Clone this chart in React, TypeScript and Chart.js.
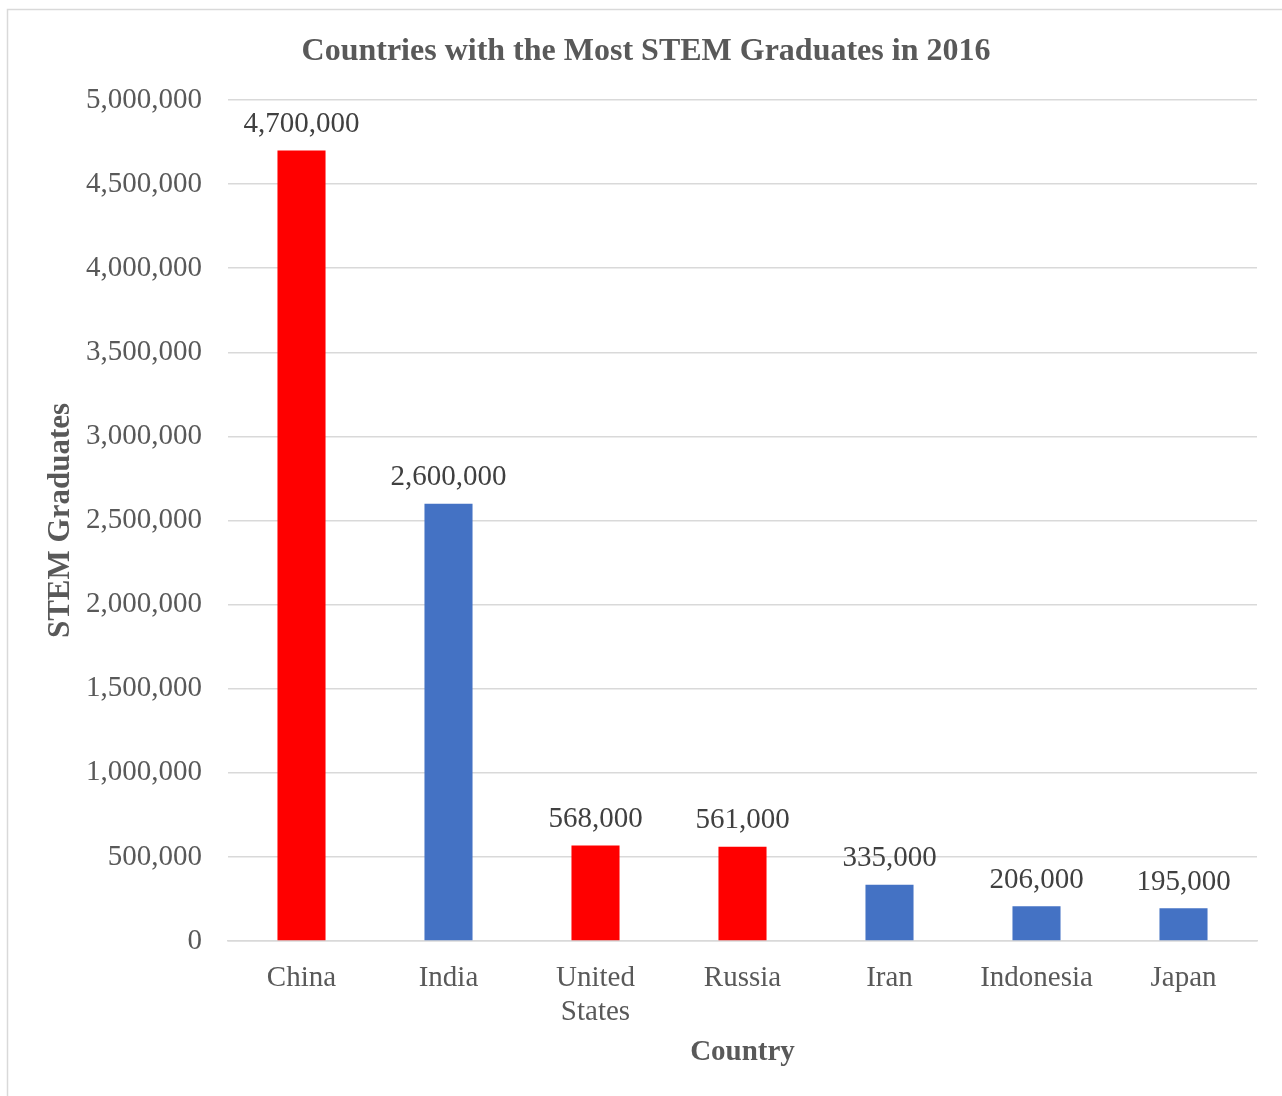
import React, { useEffect, useRef } from "react";
import { Chart, registerables } from "chart.js";

Chart.register(...registerables);

const categories: (string | string[])[] = ["China", "India", ["United", "States"], "Russia", "Iran", "Indonesia", "Japan"];
const graduates: number[] = [4700000, 2600000, 568000, 561000, 335000, 206000, 195000];
const barColors: string[] = ["#FF0000", "#4472C4", "#FF0000", "#FF0000", "#4472C4", "#4472C4", "#4472C4"];
const chartTitle = "Countries with the Most STEM Graduates in 2016";
const xTitle = "Country";
const yTitle = "STEM Graduates";

const FONT = "'Liberation Serif', 'Times New Roman', serif";
const W = 1282;
const H = 1096;

const fmt = (v: number) => v.toLocaleString("en-US");

const decorPlugin = {
  id: "decor",
  beforeDraw(chart: any) {
    const ctx = chart.ctx;
    ctx.save();
    ctx.strokeStyle = "#d9d9d9";
    ctx.lineWidth = 1.5;
    ctx.beginPath();
    ctx.moveTo(7.5, H);
    ctx.lineTo(7.5, 9.5);
    ctx.lineTo(W, 9.5);
    ctx.stroke();
    ctx.restore();
  },
  afterDraw(chart: any) {
    const ctx = chart.ctx;
    const area = chart.chartArea;
    ctx.save();
    // title
    ctx.fillStyle = "#595959";
    ctx.textAlign = "center";
    ctx.textBaseline = "alphabetic";
    ctx.font = `bold 32px ${FONT}`;
    ctx.fillText(chartTitle, 646, 60);
    // x title
    ctx.textBaseline = "middle";
    ctx.font = `bold 29px ${FONT}`;
    ctx.fillText(xTitle, (area.left + area.right) / 2, 1053);
    // y title
    ctx.font = `bold 31px ${FONT}`;
    ctx.save();
    ctx.translate(61, (area.top + area.bottom) / 2);
    ctx.rotate(-Math.PI / 2);
    ctx.fillText(yTitle, 0, 0);
    ctx.restore();
    // data labels
    ctx.fillStyle = "#404040";
    ctx.font = `29px ${FONT}`;
    const meta = chart.getDatasetMeta(0);
    meta.data.forEach((bar: any, i: number) => {
      ctx.fillText(fmt(graduates[i]), bar.x, bar.y - 26);
    });
    ctx.restore();
  },
};

export default function App() {
  const ref = useRef<HTMLCanvasElement | null>(null);
  useEffect(() => {
    if (!ref.current) return;
    const chart = new Chart(ref.current, {
      type: "bar",
      data: {
        labels: categories,
        datasets: [
          {
            data: graduates,
            backgroundColor: barColors,
            borderWidth: 0,
            barPercentage: 0.327,
            categoryPercentage: 1,
          },
        ],
      },
      options: {
        responsive: false,
        animation: false,
        layout: { padding: { top: 100, right: 25, bottom: 0, left: 0 } },
        plugins: {
          legend: { display: false },
          tooltip: { enabled: false },
          title: { display: false },
        },
        scales: {
          x: {
            grid: { display: false, drawTicks: false },
            border: { display: true, color: "#d9d9d9", width: 1.5 },
            ticks: {
              color: "#595959",
              font: { family: FONT, size: 29, lineHeight: 1.17 },
              padding: 20,
              maxRotation: 0,
              autoSkip: false,
            },
            afterFit(scale: any) {
              scale.height = 155;
            },
          },
          y: {
            min: 0,
            max: 5000000,
            grid: { color: "#d9d9d9", lineWidth: 1.5, drawTicks: false },
            border: { display: false },
            ticks: {
              stepSize: 500000,
              color: "#595959",
              font: { family: FONT, size: 29 },
              padding: 26,
              callback: (v: any) => fmt(Number(v)),
            },
            afterFit(scale: any) {
              scale.width = 228;
            },
          },
        },
      },
      plugins: [decorPlugin],
    });
    return () => chart.destroy();
  }, []);
  return (
    <div style={{ position: "absolute", left: 0, top: 0, width: W, height: H, overflow: "hidden", background: "#fff" }}>
      <canvas ref={ref} width={W} height={H} style={{ display: "block", width: W, height: H }} />
    </div>
  );
}
